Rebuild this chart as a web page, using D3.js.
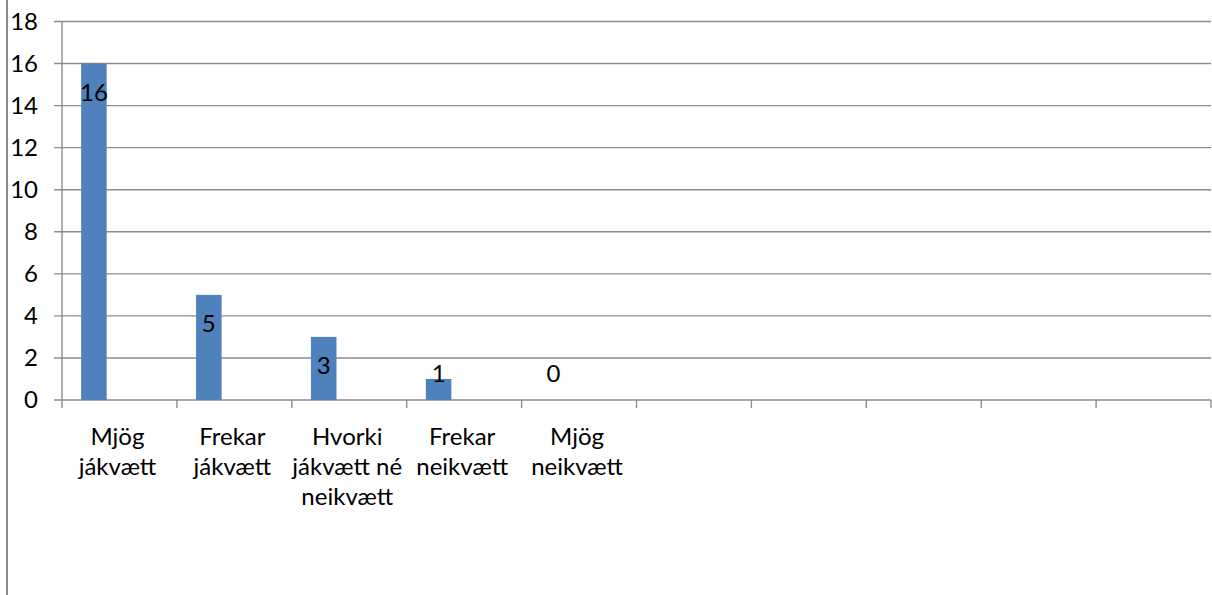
<!DOCTYPE html>
<html>
<head>
<meta charset="utf-8">
<script src="https://cdn.jsdelivr.net/npm/d3@7"></script>
<style>
  html, body { margin: 0; padding: 0; background: #fff; }
  svg { display: block; }
  text { font-family: Lato, "Open Sans", sans-serif; fill: #000; }
</style>
</head>
<body>
<svg id="chart" width="1212" height="595"></svg>
<script>
// ---- data ----
const categories = [
  ["Mjög", "jákvætt"],
  ["Frekar", "jákvætt"],
  ["Hvorki", "jákvætt né", "neikvætt"],
  ["Frekar", "neikvætt"],
  ["Mjög", "neikvætt"],
  [], [], [], [], []
];
const values = [16, 5, 3, 1, 0, null, null, null, null, null];
const yTicks = [0, 2, 4, 6, 8, 10, 12, 14, 16, 18];

// ---- layout ----
const W = 1212, H = 595;
const mLeft = 62, mRight = 1211, mTop = 21.5, mBottom = 400;
const FS = 24;
const svg = d3.select("#chart");

const idx = categories.map((d, i) => i);
const x = d3.scaleBand().domain(idx).range([mLeft, mRight]).paddingInner(0).paddingOuter(0);
const y = d3.scaleLinear().domain([0, 18]).range([mBottom, mTop]);
const bw = x.bandwidth();

// left frame border
svg.append("line")
  .attr("x1", 7).attr("x2", 7).attr("y1", 0).attr("y2", H)
  .attr("stroke", "#8a8a8a").attr("stroke-width", 2);

// gridlines + y ticks
svg.append("g").selectAll("line").data(yTicks).join("line")
  .attr("x1", mLeft - 8).attr("x2", mRight)
  .attr("y1", d => y(d)).attr("y2", d => y(d))
  .attr("stroke", "#8c8c8c").attr("stroke-width", 1.4);

// y axis line
svg.append("line")
  .attr("x1", mLeft).attr("x2", mLeft).attr("y1", mTop).attr("y2", mBottom)
  .attr("stroke", "#8c8c8c").attr("stroke-width", 1.4);

// y tick labels
svg.append("g").selectAll("text").data(yTicks).join("text")
  .attr("x", 38).attr("y", d => y(d))
  .attr("dy", "0.35em")
  .attr("text-anchor", "end")
  .attr("font-size", FS)
  .text(d => d);

// x ticks at band boundaries
const boundaries = idx.map(i => x(i)).concat([mRight]);
svg.append("g").selectAll("line").data(boundaries).join("line")
  .attr("x1", d => d).attr("x2", d => d)
  .attr("y1", mBottom).attr("y2", mBottom + 8)
  .attr("stroke", "#8c8c8c").attr("stroke-width", 1.4);

// bars (first of three cluster slots, Excel-style gap 150%)
const slot = bw / 4.5;
const barData = values.map((v, i) => ({ v, i })).filter(d => d.v !== null);
svg.append("g").selectAll("rect").data(barData).join("rect")
  .attr("x", d => x(d.i) + slot * 0.75)
  .attr("width", slot)
  .attr("y", d => y(d.v))
  .attr("height", d => y(0) - y(d.v))
  .attr("fill", "#4F81BD");

// data labels
svg.append("g").selectAll("text").data(barData).join("text")
  .attr("x", d => x(d.i) + slot * 1.25)
  .attr("y", d => Math.min(y(d.v) + 37, y(0) - 18))
  .attr("text-anchor", "middle")
  .attr("font-size", FS)
  .text(d => d.v);

// category labels
const cat = svg.append("g").selectAll("text").data(categories.map((lines, i) => ({ lines, i }))).join("text")
  .attr("text-anchor", "middle")
  .attr("font-size", FS);
cat.each(function(d) {
  d3.select(this).selectAll("tspan").data(d.lines).join("tspan")
    .attr("x", x(d.i) + bw / 2 - 2)
    .attr("y", (l, k) => 445 + k * 30)
    .text(l => l);
});
</script>
</body>
</html>
